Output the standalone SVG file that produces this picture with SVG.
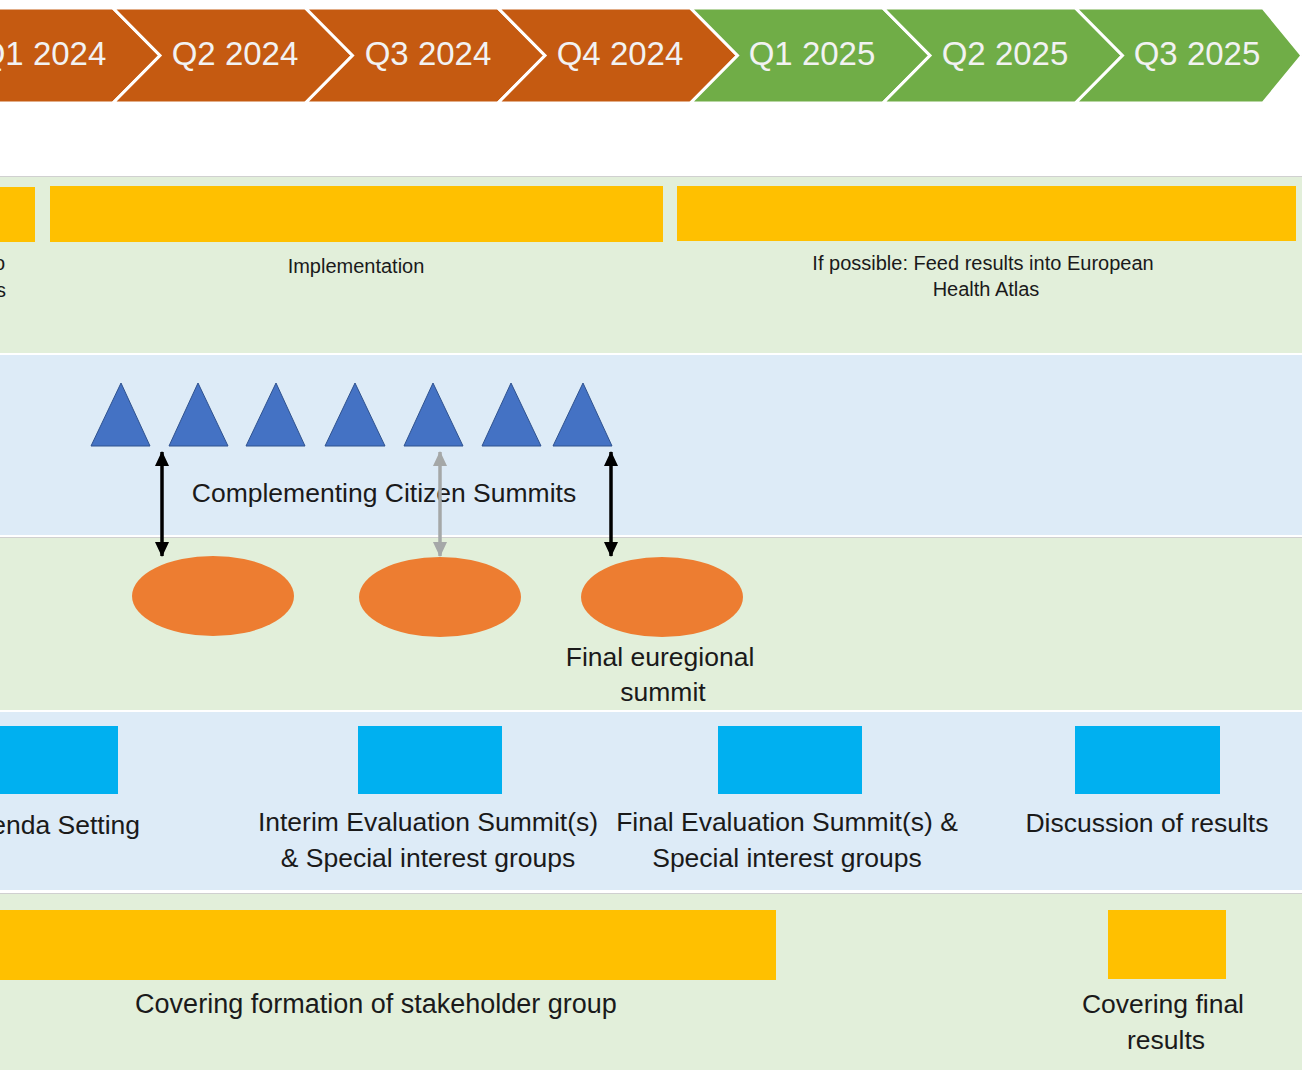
<svg xmlns="http://www.w3.org/2000/svg" width="1302" height="1070" viewBox="0 0 1302 1070">
<style>
.chev-o{fill:#C55A11;stroke:#FFFFFF;stroke-width:3;stroke-linejoin:miter}
.chev-g{fill:#70AD47;stroke:#FFFFFF;stroke-width:3;stroke-linejoin:miter}
.qt{font-family:"Liberation Sans",Arial,sans-serif;font-size:33px;fill:#F2F2F2;text-anchor:middle}
.rowg{fill:#E2EFDA}
.rowb{fill:#DDEBF7}
.sep{stroke:#D0D0D0;stroke-width:1}
.bar{fill:#FFC000}
.tri{fill:#4472C4;stroke:#2F528F;stroke-width:1}
.ell{fill:#ED7D31}
.box{fill:#00B0F0}
.st{font-family:"Liberation Sans",Arial,sans-serif;font-size:20px;fill:#1A1A1A;text-anchor:middle}
.lt{font-family:"Liberation Sans",Arial,sans-serif;font-size:26.5px;fill:#1A1A1A;text-anchor:middle}
.arr-k{stroke:#000000;stroke-width:3.5;fill:none}
.arr-g{stroke:#A5A8A8;stroke-width:3.5;fill:none}
</style>
<defs>
<marker id="ahk" viewBox="0 0 15 14" refX="14" refY="7" markerWidth="15" markerHeight="14" markerUnits="userSpaceOnUse" orient="auto-start-reverse">
<path d="M0,0 L15,7 L0,14 Z" fill="#000000"/>
</marker>
<marker id="ahg" viewBox="0 0 15 14" refX="14" refY="7" markerWidth="15" markerHeight="14" markerUnits="userSpaceOnUse" orient="auto-start-reverse">
<path d="M0,0 L15,7 L0,14 Z" fill="#A5A8A8"/>
</marker>
</defs>
<rect x="0" y="0" width="1302" height="1070" fill="#FFFFFF"/>

<g id="timeline">
<g id="q1-2024"><polygon class="chev-o" points="-60,8 113,8 160,55.5 113,103 -60,103"/><text class="qt" x="43" y="65">Q1 2024</text></g>
<g id="q2-2024"><polygon class="chev-o" points="113,8 305.5,8 352.5,55.5 305.5,103 113,103 160,55.5"/><text class="qt" x="235" y="65">Q2 2024</text></g>
<g id="q3-2024"><polygon class="chev-o" points="305.5,8 498,8 545,55.5 498,103 305.5,103 352.5,55.5"/><text class="qt" x="428" y="65">Q3 2024</text></g>
<g id="q4-2024"><polygon class="chev-o" points="498,8 690.5,8 737.5,55.5 690.5,103 498,103 545,55.5"/><text class="qt" x="620" y="65">Q4 2024</text></g>
<g id="q1-2025"><polygon class="chev-g" points="690.5,8 883,8 930,55.5 883,103 690.5,103 737.5,55.5"/><text class="qt" x="812" y="65">Q1 2025</text></g>
<g id="q2-2025"><polygon class="chev-g" points="883,8 1075.5,8 1122.5,55.5 1075.5,103 883,103 930,55.5"/><text class="qt" x="1005" y="65">Q2 2025</text></g>
<g id="q3-2025"><polygon class="chev-g" points="1075.5,8 1263,8 1302,55.5 1263,103 1075.5,103 1122.5,55.5"/><text class="qt" x="1197" y="65">Q3 2025</text></g>
</g>

<g id="rows">
<rect class="rowg" x="0" y="177" width="1302" height="176"/>
<rect class="rowb" x="0" y="355" width="1302" height="180"/>
<rect class="rowg" x="0" y="538" width="1302" height="172"/>
<rect class="rowb" x="0" y="712" width="1302" height="178"/>
<rect class="rowg" x="0" y="894" width="1302" height="176"/>
<line class="sep" x1="0" y1="176.5" x2="1302" y2="176.5"/>
<line class="sep" x1="0" y1="537.5" x2="1302" y2="537.5"/>
<line class="sep" x1="0" y1="893.5" x2="1302" y2="893.5"/>
</g>

<g id="row1">
<g id="bar-prep"><rect class="bar" x="-10" y="187" width="45" height="55"/>
<text class="st" x="5" y="270" style="text-anchor:end">o</text>
<text class="st" x="6" y="297" style="text-anchor:end">s</text></g>
<g id="bar-implementation"><rect class="bar" x="50" y="186" width="613" height="56"/>
<text class="st" x="356" y="273">Implementation</text></g>
<g id="bar-atlas"><rect class="bar" x="677" y="186" width="619" height="55"/>
<text class="st" x="983" y="270">If possible: Feed results into European</text>
<text class="st" x="986" y="296">Health Atlas</text></g>
</g>

<g id="row2-citizen-summits">
<polygon id="tri1" class="tri" points="91,446 121,383 150,446"/>
<polygon id="tri2" class="tri" points="169,446 198,383 228,446"/>
<polygon id="tri3" class="tri" points="246,446 276,383 305,446"/>
<polygon id="tri4" class="tri" points="325,446 355,383 385,446"/>
<polygon id="tri5" class="tri" points="404,446 433,383 463,446"/>
<polygon id="tri6" class="tri" points="482,446 511,383 541,446"/>
<polygon id="tri7" class="tri" points="553,446 583,383 612,446"/>
<text id="label-citizen" class="lt" x="384" y="502">Complementing Citizen Summits</text>
</g>

<g id="row3-euregional">
<ellipse id="ell1" class="ell" cx="213" cy="596" rx="81" ry="40"/>
<ellipse id="ell2" class="ell" cx="440" cy="597" rx="81" ry="40"/>
<ellipse id="ell3" class="ell" cx="662" cy="597" rx="81" ry="40"/>
<text class="lt" x="660" y="666">Final euregional</text>
<text class="lt" x="663" y="701">summit</text>
</g>

<g id="row4-stakeholder">
<g id="box1"><rect class="box" x="-10" y="726" width="128" height="68"/>
<text class="lt" x="140" y="834" style="text-anchor:end">enda Setting</text></g>
<g id="box2"><rect class="box" x="358" y="726" width="144" height="68"/>
<text class="lt" x="428" y="831">Interim Evaluation Summit(s)</text>
<text class="lt" x="428" y="867">&amp; Special interest groups</text></g>
<g id="box3"><rect class="box" x="718" y="726" width="144" height="68"/>
<text class="lt" x="787" y="831">Final Evaluation Summit(s) &amp;</text>
<text class="lt" x="787" y="867">Special interest groups</text></g>
<g id="box4"><rect class="box" x="1075" y="726" width="145" height="68"/>
<text class="lt" x="1147" y="832">Discussion of results</text></g>
</g>

<g id="row5-coverage">
<g id="bar-formation"><rect class="bar" x="-10" y="910" width="786" height="70"/>
<text class="lt" x="376" y="1013" style="font-size:27px">Covering formation of stakeholder group</text></g>
<g id="bar-final"><rect class="bar" x="1108" y="910" width="118" height="69"/>
<text class="lt" x="1163" y="1013">Covering final</text>
<text class="lt" x="1166" y="1049">results</text></g>
</g>

<g id="connectors">
<line class="arr-k" x1="162" y1="452" x2="162" y2="556" marker-start="url(#ahk)" marker-end="url(#ahk)"/>
<line class="arr-g" x1="440" y1="452" x2="440" y2="556" marker-start="url(#ahg)" marker-end="url(#ahg)"/>
<line class="arr-k" x1="611" y1="452" x2="611" y2="556" marker-start="url(#ahk)" marker-end="url(#ahk)"/>
</g>
</svg>
